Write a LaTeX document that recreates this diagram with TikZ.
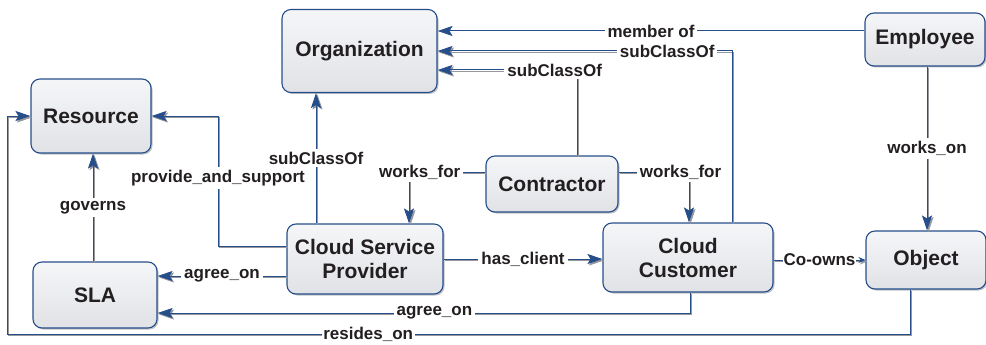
\documentclass[tikz,border=0pt]{standalone}
\usepackage{fontspec}
\setmainfont{Liberation Sans}
\definecolor{linkblue}{RGB}{38, 78, 138}
\definecolor{boxtop}{RGB}{245, 246, 248}
\definecolor{boxbottom}{RGB}{224, 226, 230}
\definecolor{inkgray}{RGB}{35, 31, 32}
\definecolor{shadegray}{RGB}{150, 152, 158}
\usetikzlibrary{arrows.meta, shadows}

\begin{document}
\begin{tikzpicture}[x=1pt, y=-1pt,
  concept/.style={draw=linkblue, line width=1.1pt, rounded corners=9pt,
    top color=boxtop, bottom color=boxbottom, text=inkgray, align=center,
    font=\fontsize{21}{24}\selectfont\bfseries,
    drop shadow={shadow xshift=1.5pt, shadow yshift=-1.5pt, fill=shadegray, opacity=0.6}},
  link/.style={draw=linkblue, line width=1pt, -{Stealth[length=15pt, width=10pt, inset=3pt]}},
  rel/.style={link, preaction={draw=shadegray, line width=1pt,
    transform canvas={shift={(1.5pt,-1.5pt)}}}},
  lbl/.style={fill=white, inner sep=3pt, text=inkgray,
    font=\fontsize{17}{20}\selectfont\bfseries}]
  \useasboundingbox (0,0) rectangle (986,345);

  % classes
  \node[concept, minimum width=155pt, minimum height=83pt] (org) at (359.5,51) {Organization};
  \node[concept, minimum width=120pt, minimum height=74pt] (res) at (91,116) {Resource};
  \node[concept, minimum width=120pt, minimum height=53pt] (emp) at (925,39.5) {Employee};
  \node[concept, minimum width=132pt, minimum height=56pt] (con) at (552,184) {Contractor};
  \node[concept, minimum width=156pt, minimum height=70pt] (csp) at (365,259) {Cloud Service\\Provider};
  \node[concept, minimum width=170pt, minimum height=69pt] (cc) at (688,257.5) {Cloud\\Customer};
  \node[concept, minimum width=120pt, minimum height=58pt] (obj) at (926,260) {Object};
  \node[concept, minimum width=124pt, minimum height=66pt] (sla) at (95,295) {SLA};

  % relations
  \draw[link] (emp.west |- 0,31) -- node[lbl]{member of} (org.east |- 0,31);
  \draw[rel] (cc.north -| 732,0) |- node[lbl, pos=0.61]{subClassOf} (org.east |- 0,51);
  \draw[rel] (con.north -| 577,0) |- node[lbl, pos=0.58]{subClassOf} (org.east |- 0,70);
  \draw[rel] (csp.north -| 316,0) -- node[lbl]{subClassOf} (org.south -| 316,0);
  \draw[rel] (csp.west |- 0,246) -| node[lbl, pos=0.76]{provide\_and\_support} (res.east -| 218,0) -- (res.east);
  \draw[rel] (sla.north -| 93,0) -- node[lbl]{governs} (res.south -| 93,0);
  \draw[rel] (con.west |- 0,172) -| node[lbl, pos=0.43]{works\_for} (csp.north -| 409,0);
  \draw[rel] (con.east |- 0,172) -| node[lbl, pos=0.44]{works\_for} (cc.north -| 689,0);
  \draw[rel] (csp.east |- 0,259) -- node[lbl]{has\_client} (cc.west |- 0,259);
  \draw[rel, -{Stealth[length=7pt, width=6pt]}] (cc.east |- 0,260) -- node[lbl, inner sep=1pt]{Co-owns} (obj.west |- 0,260);
  \draw[rel] (csp.west |- 0,276) -- node[lbl]{agree\_on} (sla.east |- 0,276);
  \draw[rel] (cc.south -| 690,0) |- node[lbl, pos=0.74]{agree\_on} (sla.east |- 0,313);
  \draw[rel] (obj.south -| 910,0) |- node[lbl, pos=0.8, inner sep=1.5pt]{resides\_on} (7,334) |- (res.west);
  \draw[rel] (emp.south -| 927,0) -- node[lbl]{works\_on} (obj.north -| 927,0);
\end{tikzpicture}
\end{document}
